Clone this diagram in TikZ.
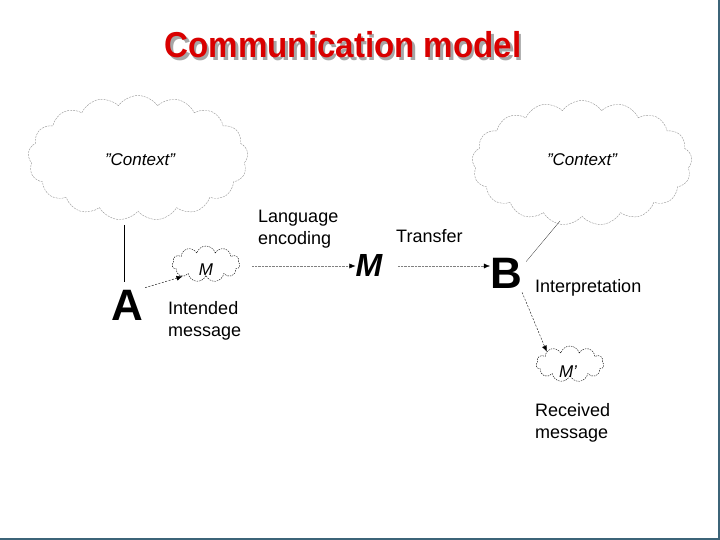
\documentclass[tikz,border=0pt]{standalone}
\usepackage{fontspec}
\setmainfont{Liberation Sans}
\usetikzlibrary{shapes.symbols,arrows.meta}
\definecolor{edge}{RGB}{60,100,120}
\definecolor{cl}{RGB}{150,150,150}
\tikzset{
  bigcloud/.style={cloud, cloud puffs=17, cloud puff arc=110, draw=cl, dashed, dash pattern=on 2pt off 1pt, minimum width=220pt, minimum height=125pt, aspect=1.8},
  smallcloud/.style={cloud, cloud puffs=11, draw=black, dashed, dash pattern=on 1.5pt off 1pt, minimum width=68pt, minimum height=36pt},
  lbl/.style={font=\fontsize{18}{22}\selectfont, align=left, anchor=north west, inner sep=0pt},
  big/.style={font=\fontsize{44}{44}\selectfont\bfseries, inner sep=0pt},
  dotarr/.style={gray, densely dotted, -{Latex[length=6pt,width=5pt,black]}},
  dasharr/.style={black, dashed, dash pattern=on 2pt off 1.5pt, -{Latex[length=6pt,width=5pt]}}
}
\begin{document}
\begin{tikzpicture}[x=1pt,y=-1pt]
\useasboundingbox (0,0) rectangle (720,540);
\fill[white] (0,0) rectangle (720,540);
\draw[edge, line width=1.5pt] (719,0) -- (719,539) -- (0,539);
% title
\node[text=gray!70, font=\fontsize{36}{36}\selectfont\bfseries, xscale=0.92] (tshadow) at (345.5,47.5) {Communication model};
\node[text=red!85!black, font=\fontsize{36}{36}\selectfont\bfseries, xscale=0.92] (title) at (343,45) {Communication model};
% clouds
\node[bigcloud] (ctxL) at (138,158) {};
\node[font=\fontsize{17}{17}\selectfont\itshape] (ctxLt) at (140,160) {"Context"};
\node[bigcloud] (ctxR) at (582,163) {};
\node[font=\fontsize{17}{17}\selectfont\itshape] (ctxRt) at (582,160) {"Context"};
\node[smallcloud] (mc) at (206,264) {};
\node[font=\fontsize{17}{17}\selectfont\itshape] (mct) at (206,270) {M};
\node[smallcloud] (mpc) at (570,364) {};
\node[font=\fontsize{17}{17}\selectfont\itshape] (mpct) at (568,372) {M'};
% letters
\node[big] (A) at (127,305) {A};
\node[font=\fontsize{32}{32}\selectfont\bfseries\itshape, inner sep=0pt] (M) at (369,265) {M};
\node[big] (B) at (506,273) {B};
% labels
\node[lbl] (lang) at (258,210) {Language\\encoding};
\node[lbl] (trans) at (396,229) {Transfer};
\node[lbl] (interp) at (535,279) {Interpretation};
\node[lbl] (intend) at (168,301) {Intended\\message};
\node[lbl] (recv) at (535,403) {Received\\message};
% connectors
\coordinate (cLb) at (124,225);
\draw[black, thin] (cLb) -- (124,282);
\draw[dasharr] (A.north east) ++(2,-2) coordinate (a1) (a1) -- (mc.south west);
\coordinate (m0) at (252,266);
\draw[dotarr] (m0) -- (m0 -| M.west) coordinate (m0e);
\coordinate (m1) at (398,266);
\draw[dotarr] (m1) -- (m1 -| B.west) coordinate (m1e);
\coordinate (cRb) at (560,221);
\draw[black, very thin] (B.north east) ++(4,4) coordinate (b1) (b1) -- (cRb);
\draw[dasharr] (B.south east) ++(0,4) coordinate (b2) (b2) -- (mpc.north west);
\end{tikzpicture}
\end{document}
